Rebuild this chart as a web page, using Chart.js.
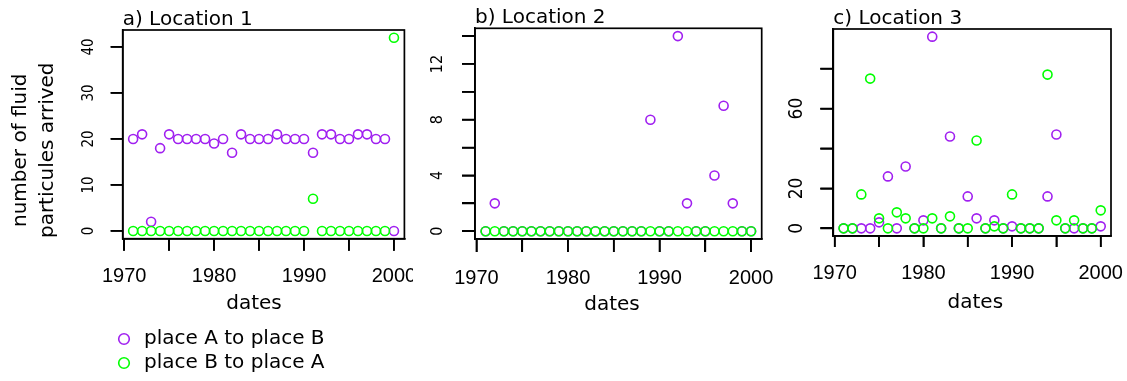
<!DOCTYPE html>
<html><head><meta charset="utf-8">
<script src="https://cdn.jsdelivr.net/npm/chart.js@4.4.1/dist/chart.umd.min.js"></script>
<style>
html,body{margin:0;padding:0;background:#fff;width:1127px;height:381px;overflow:hidden;}
canvas{position:absolute;}
</style></head><body>
<canvas id="c1" width="413" height="381" style="left:0;top:0"></canvas>
<canvas id="c2" width="372" height="381" style="left:413px;top:0"></canvas>
<canvas id="c3" width="342" height="381" style="left:785px;top:0"></canvas>
<canvas id="lg" width="300" height="120" style="left:110px;top:325px"></canvas>
<script>
// ---- data ----
const YEARS = [1971,1972,1973,1974,1975,1976,1977,1978,1979,1980,1981,1982,1983,1984,1985,1986,1987,1988,1989,1990,1991,1992,1993,1994,1995,1996,1997,1998,1999,2000];
const LOC1_A_TO_B = [20,21,2,18,21,20,20,20,20,19,20,17,21,20,20,20,21,20,20,20,17,21,21,20,20,21,21,20,20,0];
const LOC1_B_TO_A = [0,0,0,0,0,0,0,0,0,0,0,0,0,0,0,0,0,0,0,0,7,0,0,0,0,0,0,0,0,42];
const LOC2_A_TO_B = [0,2,0,0,0,0,0,0,0,0,0,0,0,0,0,0,0,0,8,0,0,14,2,0,0,4,9,2,0,0];
const LOC2_B_TO_A = [0,0,0,0,0,0,0,0,0,0,0,0,0,0,0,0,0,0,0,0,0,0,0,0,0,0,0,0,0,0];
const LOC3_A_TO_B = [0,0,0,0,3,26,0,31,0,4,96,0,46,0,16,5,0,4,0,1,0,0,0,16,47,0,0,0,0,1];
const LOC3_B_TO_A = [0,0,17,75,5,0,8,5,0,0,5,0,6,0,0,44,0,1,0,17,0,0,0,77,4,0,4,0,0,9];
const PANEL_TITLES = ['a) Location 1','b) Location 2','c) Location 3'];
const LEGEND_LABELS = ['place A to place B','place B to place A'];
const X_TITLE = 'dates';
const Y_TITLE = ['number of fluid','particules arrived'];
const X_TICKS = [1970,1975,1980,1985,1990,1995,2000];
const X_LABELS = [1970,1980,1990,2000];
const Y1_TICKS = [0,10,20,30,40];
const Y1_LABELS = [0,10,20,30,40];
const Y2_TICKS = [0,2,4,6,8,10,12,14];
const Y2_LABELS = [0,4,8,12];
const Y3_TICKS = [0,20,40,60,80];
const Y3_LABELS = [0,20,60];

// ---- styles ----
const PURPLE = '#A020F0', GREEN = '#00FF00';
const TICK_FONT = "'Liberation Sans', Arial, sans-serif";
const NARROW_FONT = "'Liberation Sans Narrow', 'DejaVu Sans Condensed', 'Liberation Sans', Arial, sans-serif";
const TEXT_FONT = "'DejaVu Sans', sans-serif";
const X_MIN = 1969.84, X_MAX = 2001.16;
const LINE_W = 1.7;
const pad = (s, lead, trail) => ' '.repeat(lead) + s + ' '.repeat(trail);

function measure(font, labels){
  const ctx = document.createElement('canvas').getContext('2d');
  ctx.font = font;
  return Math.max(...labels.map(l => ctx.measureText(l).width));
}
// plot box + outward tick marks, placed through the chart's own scales
const boxPlugin = {
  id:'box',
  afterDatasetsDraw(chart, args, opts){
    const {ctx, chartArea:a, scales} = chart;
    ctx.save(); ctx.strokeStyle = '#000'; ctx.lineWidth = LINE_W;
    ctx.strokeRect(a.left, a.top, a.right - a.left, a.bottom - a.top);
    ctx.beginPath();
    scales.x.ticks.forEach(t => { const px = scales.x.getPixelForValue(t.value); ctx.moveTo(px, a.bottom); ctx.lineTo(px, a.bottom + opts.xTl); });
    scales.y.ticks.forEach(t => { const py = scales.y.getPixelForValue(t.value); ctx.moveTo(a.left, py); ctx.lineTo(a.left - opts.yTl, py); });
    ctx.stroke();
    ctx.restore();
  }
};
function pts(vals){ return YEARS.map((y,i) => ({x:y, y:vals[i]})); }

function panel(id, p){
  const yPad = p.yRight - p.yTl - p.yCenter - measure(p.yFont + 'px ' + NARROW_FONT, p.yLabels.map(String)) / 2;
  return new Chart(document.getElementById(id), {
    type:'scatter',
    data:{datasets:[
      {label:LEGEND_LABELS[0], data:pts(p.A), borderColor:PURPLE, backgroundColor:'rgba(0,0,0,0)', pointRadius:4.5, pointBorderWidth:1.6, order:1},
      {label:LEGEND_LABELS[1], data:pts(p.B), borderColor:GREEN, backgroundColor:'rgba(0,0,0,0)', pointRadius:4.5, pointBorderWidth:1.6, order:0}
    ]},
    options:{
      responsive:false, animation:false, devicePixelRatio:1,
      layout:{padding:{left:0, right:p.padRight, top:0, bottom:p.padBottom}},
      plugins:{
        legend:{display:false}, tooltip:{enabled:false},
        title:{display:true, text:p.title, align:'start', fullSize:false, color:'#000',
          font:{family:TEXT_FONT, size:20, lineHeight:1.2, weight:'normal'},
          padding:{top:p.tTop, bottom:p.tBottom}},
        box:{xTl:p.xTl, yTl:p.yTl}
      },
      scales:{
        x:{type:'linear', min:X_MIN, max:X_MAX,
          afterBuildTicks:s => { s.ticks = X_TICKS.map(v => ({value:v})); },
          afterFit:s => { s.height = p.xH; s.paddingLeft = 0; s.paddingRight = 0; },
          ticks:{autoSkip:false, maxRotation:0, minRotation:0, padding:p.xPad, color:'#000',
            font:{family:TICK_FONT, size:20, lineHeight:1.2},
            callback:v => X_LABELS.includes(v) ? String(v) : ''},
          grid:{display:true, drawOnChartArea:false, drawTicks:true, tickLength:p.xTl, color:'#000', lineWidth:LINE_W, tickColor:'#000', tickWidth:LINE_W},
          border:{display:true, color:'#000', width:LINE_W},
          title:{display:true, text:pad(X_TITLE, p.tLead, p.tTrail), color:'#000', font:{family:TEXT_FONT, size:20, lineHeight:1.2}, padding:{top:0, bottom:0}}
        },
        y:{type:'linear', min:p.yMin, max:p.yMax,
          afterBuildTicks:s => { s.ticks = p.yTicks.map(v => ({value:v})); },
          afterFit:s => { s.width = p.yW; s.paddingTop = 0; s.paddingBottom = 0; },
          ticks:{autoSkip:false, minRotation:90, maxRotation:90, crossAlign:'center', padding:yPad, color:'#000',
            font:{family:NARROW_FONT, size:p.yFont, lineHeight:1.2},
            callback:v => p.yLabels.includes(v) ? String(v) : ''},
          grid:{display:true, drawOnChartArea:false, drawTicks:true, tickLength:p.yTl, color:'#000', lineWidth:LINE_W, tickColor:'#000', tickWidth:LINE_W},
          border:{display:true, color:'#000', width:LINE_W},
          title: p.yTitle ? {display:true, text:p.yTitle.map(t => pad(t, 0, 5)), color:'#000', font:{family:TEXT_FONT, size:20, lineHeight:1.35}, padding:{top:7.5, bottom:0}} : {display:false}
        }
      }
    },
    plugins:[boxPlugin]
  });
}

panel('c1', {title:PANEL_TITLES[0], A:LOC1_A_TO_B, B:LOC1_B_TO_A,
  yMin:-1.68, yMax:43.68, yTicks:Y1_TICKS, yLabels:Y1_LABELS, yFont:15, yTl:12, yRight:122.7, yCenter:88.7, yW:122.7,
  yTitle:Y_TITLE, xTl:12, xPad:13.4, xH:77.3, padRight:8.6, padBottom:65, tTop:7.8, tBottom:-1.8, tLead:0, tTrail:3});
panel('c2', {title:PANEL_TITLES[1], A:LOC2_A_TO_B, B:LOC2_B_TO_A,
  yMin:-0.56, yMax:14.56, yTicks:Y2_TICKS, yLabels:Y2_LABELS, yFont:16, yTl:13, yRight:62, yCenter:25, yW:62,
  yTitle:null, xTl:13, xPad:14, xH:77.8, padRight:23.3, padBottom:64.2, tTop:6.1, tBottom:-1.8, tLead:0, tTrail:2});
panel('c3', {title:PANEL_TITLES[2], A:LOC3_A_TO_B, B:LOC3_B_TO_A,
  yMin:-3.84, yMax:99.84, yTicks:Y3_TICKS, yLabels:Y3_LABELS, yFont:19, yTl:13, yRight:48.3, yCenter:12.5, yW:48.3,
  yTitle:null, xTl:11, xPad:14, xH:79, padRight:16, padBottom:66, tTop:7.1, tBottom:-2.1, tLead:1, tTrail:0});

new Chart(document.getElementById('lg'), {
  type:'scatter',
  data:{datasets:[
    {label:LEGEND_LABELS[0], data:[], borderColor:PURPLE, backgroundColor:'rgba(0,0,0,0)', pointBorderWidth:1.6, borderWidth:1.6},
    {label:LEGEND_LABELS[1], data:[], borderColor:GREEN, backgroundColor:'rgba(0,0,0,0)', pointBorderWidth:1.6, borderWidth:1.6}
  ]},
  options:{
    responsive:false, animation:false, devicePixelRatio:1,
    layout:{padding:0},
    scales:{x:{display:false}, y:{display:false}},
    plugins:{tooltip:{enabled:false},
      legend:{display:true, position:'top', align:'start',
        labels:{usePointStyle:true, pointStyle:'circle', boxWidth:20, boxHeight:7.5, padding:4, color:'#000',
          font:{family:TEXT_FONT, size:20, lineHeight:1.2}}}}
  }
});
</script>
</body></html>
